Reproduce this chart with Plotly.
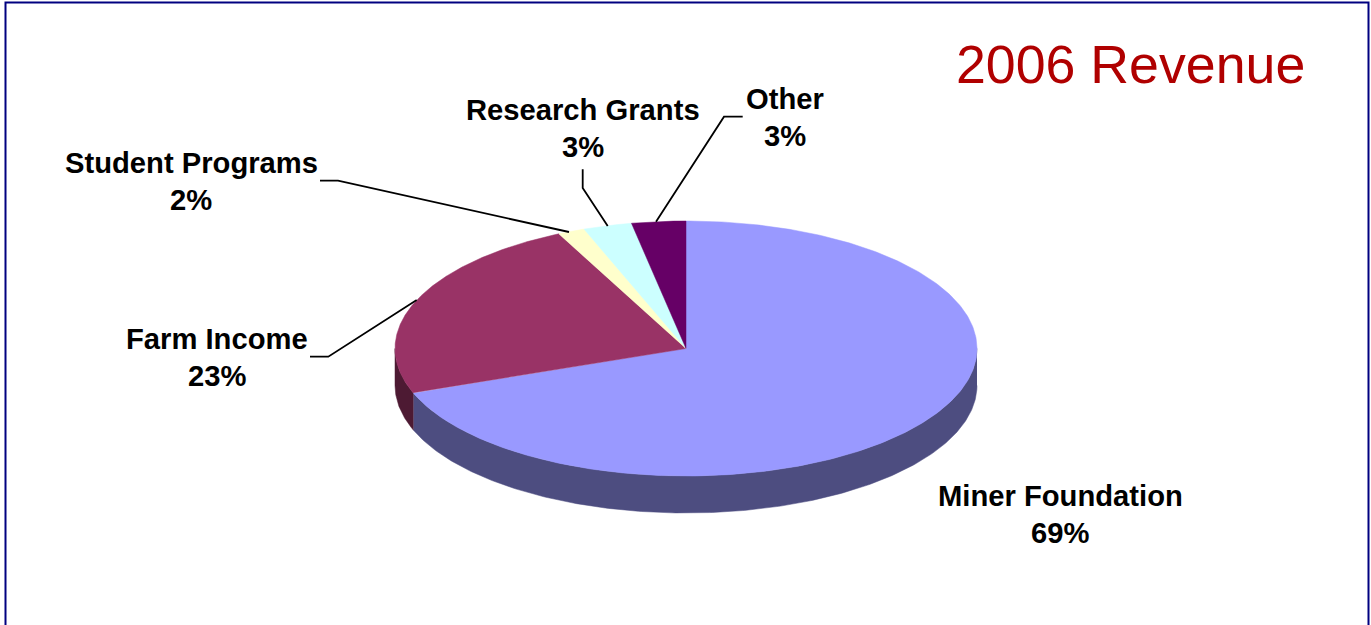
import numpy as np
import plotly.graph_objects as go

# --- data -----------------------------------------------------------------
categories = ["Miner Foundation", "Farm Income", "Student Programs", "Research Grants", "Other"]
shares = [69.3, 23.5, 1.5, 2.7, 3.0]
percent_labels = ["69%", "23%", "2%", "3%", "3%"]
top_colors = ["#9999FF", "#993366", "#FFFFCC", "#CCFFFF", "#660066"]
side_colors = ["#4D4D80", "#4D1A33", "#808066", "#668080", "#330033"]

# --- geometry of the tilted pie, in page pixels ----------------------------
W, H = 1371, 625
CX, CY, RX, RY, DEPTH = 686.0, 348.5, 291.0, 127.5, 37.0
LINE_GAP = 36.6


def rim(t):
    """Point on the top ellipse for clockwise angle t (radians) from 12 o'clock."""
    return CX + RX * np.sin(t), CY - RY * np.cos(t)


fracs = np.array(shares, dtype=float) / sum(shares)
edges = np.concatenate([[0.0], np.cumsum(fracs)]) * 2 * np.pi

fig = go.Figure()

# walls: only the part of each slice facing the viewer (pi/2 .. 3pi/2)
for i, name in enumerate(categories):
    a, b = max(edges[i], np.pi / 2), min(edges[i + 1], 3 * np.pi / 2)
    if b <= a:
        continue
    t = np.linspace(a, b, 240)
    x, y = rim(t)
    fig.add_trace(go.Scatter(
        x=np.concatenate([x, x[::-1]]),
        y=np.concatenate([y, y[::-1] + DEPTH]),
        mode="lines", fill="toself", fillcolor=side_colors[i],
        line=dict(width=0.5, color=side_colors[i]),
        hoverinfo="skip", showlegend=False,
    ))

# top faces
for i, name in enumerate(categories):
    t = np.linspace(edges[i], edges[i + 1], 360)
    x, y = rim(t)
    fig.add_trace(go.Scatter(
        x=np.concatenate([[CX], x, [CX]]),
        y=np.concatenate([[CY], y, [CY]]),
        mode="lines", fill="toself", fillcolor=top_colors[i],
        line=dict(width=0.5, color=top_colors[i]),
        name=name, text=f"{name}: {percent_labels[i]}", hoverinfo="text",
        showlegend=False,
    ))

# --- labels ----------------------------------------------------------------
label_pos = [(1060, 496), (217, 339), (191, 163), (583, 110), (785, 99)]
label_font = dict(family="Liberation Sans", size=29.2, color="#000000")
annotations = []
for c, p, (px, py) in zip(categories, percent_labels, label_pos):
    for txt, yy in ((c, py), (p, py + LINE_GAP)):
        annotations.append(dict(
            x=px, y=yy, xref="x", yref="y", showarrow=False, text=f"<b>{txt}</b>",
            xanchor="center", yanchor="middle", font=label_font,
        ))
annotations.append(dict(
    x=1130.5, y=64, xref="x", yref="y", showarrow=False, text="2006 Revenue",
    xanchor="center", yanchor="middle",
    font=dict(family="Liberation Sans", size=53.7, color="#B00000"),
))

leaders = [
    "M 310 356.7 L 328.3 356.7 L 416.7 300",
    "M 320 180.7 L 338 180.7 L 569 232",
    "M 582.7 169.3 L 582.7 188 L 607.7 226",
    "M 742.7 116.7 L 724 116.7 L 656 221.7",
]
shapes = [dict(type="path", path=p, xref="x", yref="y",
               line=dict(color="#000000", width=1.8), layer="above")
          for p in leaders]
shapes.append(dict(type="path", path=f"M 5.5 {H} L 5.5 2.5 L 1368.5 2.5 L 1368.5 {H}",
                   xref="x", yref="y", line=dict(color="#000080", width=2)))

fig.update_layout(
    width=W, height=H, margin=dict(l=0, r=0, t=0, b=0),
    paper_bgcolor="#FFFFFF", plot_bgcolor="#FFFFFF",
    xaxis=dict(range=[0, W], visible=False, fixedrange=True),
    yaxis=dict(range=[H, 0], visible=False, fixedrange=True),
    annotations=annotations, shapes=shapes, showlegend=False,
)

fig.write_html(
    "out.html",
    config={"displayModeBar": False},
    post_script="document.body.style.margin='0';document.body.style.overflow='hidden';",
)
